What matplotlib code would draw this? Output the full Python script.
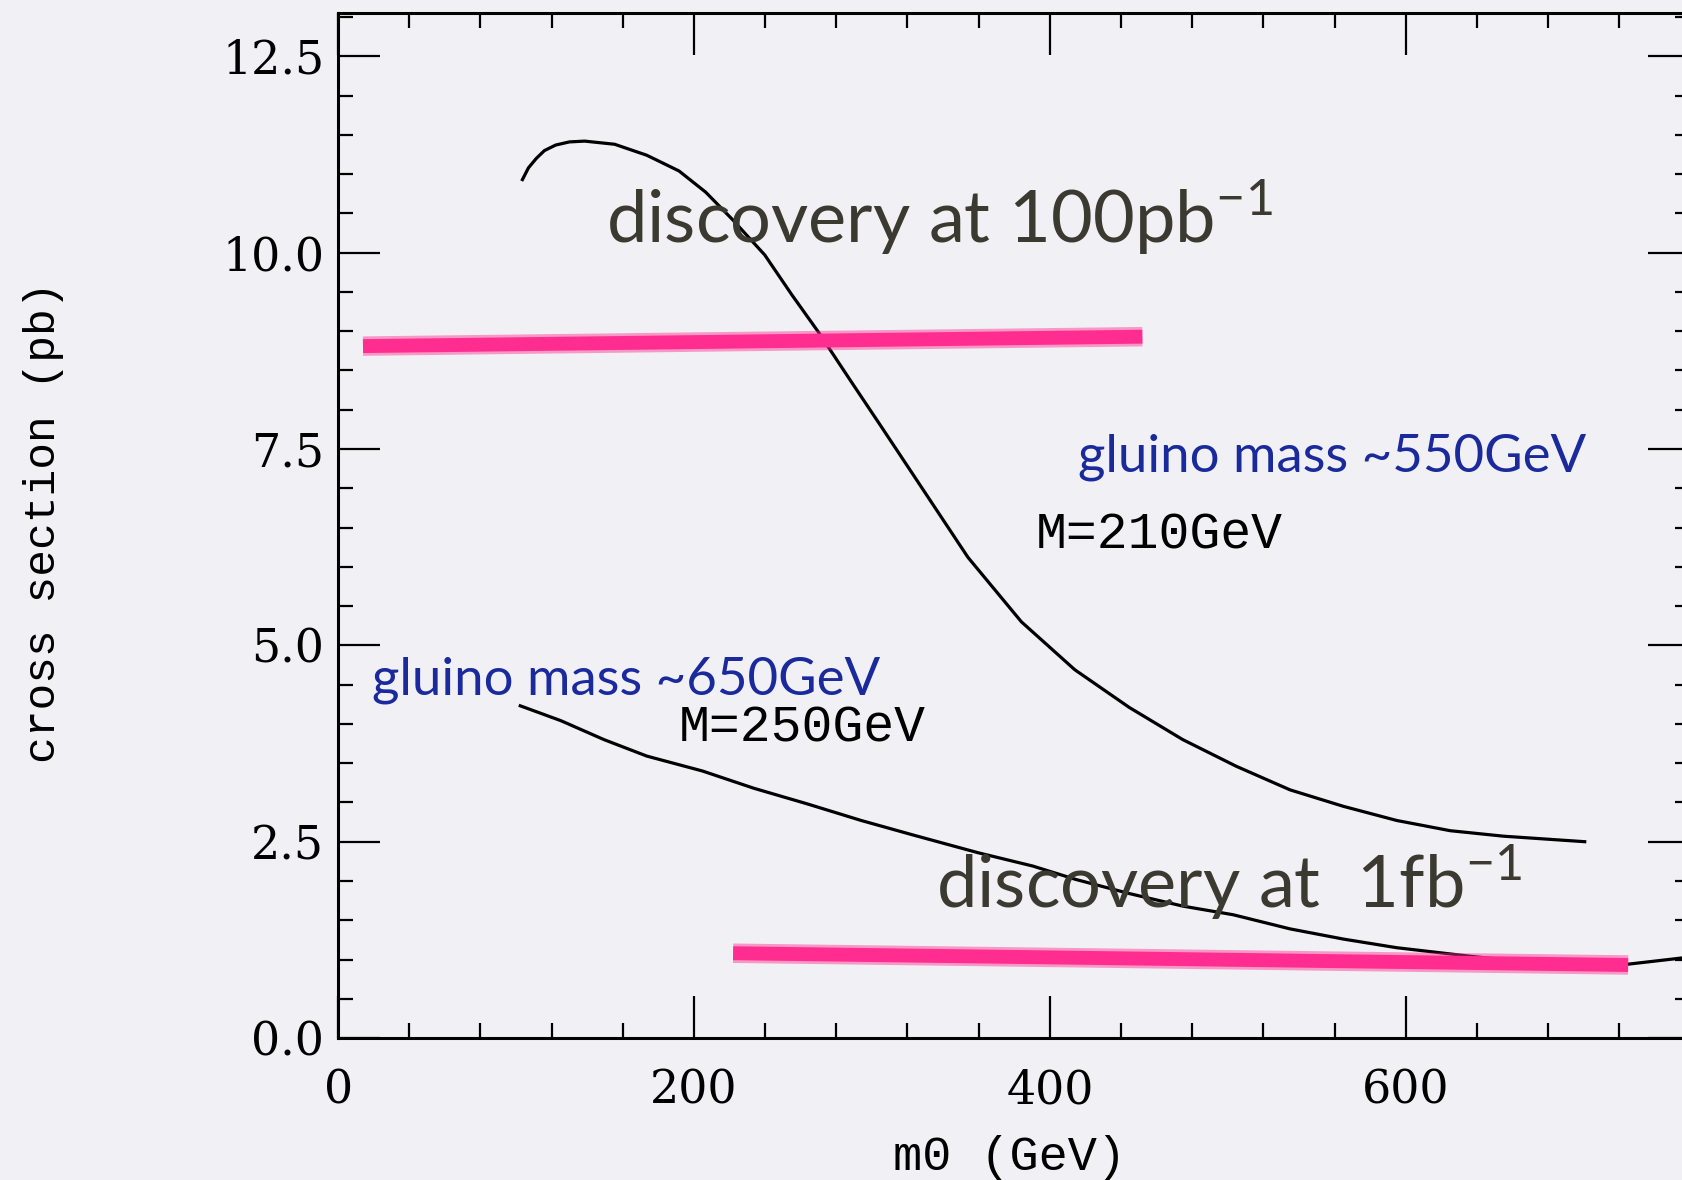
import matplotlib.pyplot as plt

plt.rcParams['mathtext.fontset'] = 'custom'
plt.rcParams['mathtext.rm'] = 'Lato'

# cross section curve, M=210GeV (gluino mass ~550GeV)
m0_210 = [103.6, 107.0, 111.4, 116.0, 122.3, 130.0, 138.6, 155.4, 173.5, 191.6,
          206.6, 221.7, 239.8, 254.8, 269.9, 288.0, 306.0, 330.0, 354.0, 384.0,
          414.0, 444.6, 474.7, 504.8, 535.0, 565.0, 595.0, 625.0, 655.0, 700.6]
xsec_210 = [10.93, 11.08, 11.20, 11.30, 11.37, 11.41, 11.42, 11.38, 11.24, 11.04,
            10.77, 10.42, 9.97, 9.47, 8.99, 8.37, 7.76, 6.94, 6.12, 5.30,
            4.69, 4.21, 3.80, 3.46, 3.16, 2.95, 2.77, 2.64, 2.57, 2.50]

# cross section curve, M=250GeV (gluino mass ~650GeV)
m0_250 = [102.4, 125.3, 149.4, 173.5, 204.8, 233.7, 263.9, 294.0, 324.0, 359.6,
          390.4, 414.5, 444.6, 474.7, 503.0, 535.0, 565.0, 595.0, 636.7, 667.5,
          721.0, 755.4]
xsec_250 = [4.23, 4.04, 3.80, 3.59, 3.40, 3.18, 2.98, 2.77, 2.58, 2.36,
            2.19, 2.02, 1.84, 1.68, 1.57, 1.39, 1.26, 1.15, 1.04, 0.97,
            0.93, 1.02]

# hand drawn discovery reach marks
reach_100pb_x = [14, 452]
reach_100pb_y = [8.81, 8.93]
reach_1fb_x = [222, 725]
reach_1fb_y = [1.08, 0.93]

bg = '#f1f0f5'
pink = '#ff2d8f'
fig = plt.figure(figsize=(16.82, 11.80), dpi=100)
fig.patch.set_facecolor(bg)
ax = fig.add_axes([0.201, 0.1203, 0.804, 0.8686])
ax.set_facecolor(bg)

ax.plot(m0_210, xsec_210, color='black', lw=2.3)
ax.plot(m0_250, xsec_250, color='black', lw=2.3)
for rx, ry in [(reach_100pb_x, reach_100pb_y), (reach_1fb_x, reach_1fb_y)]:
    ax.plot(rx, ry, color=pink, lw=14, alpha=0.45, solid_capstyle='butt')
    ax.plot(rx, ry, color=pink, lw=10, solid_capstyle='butt')

ax.set_xlim(0, 760)
ax.set_ylim(0, 13.05)
ax.set_xticks([0, 200, 400, 600])
ax.set_xticks(range(0, 761, 40), minor=True)
ax.set_yticks([0, 2.5, 5, 7.5, 10, 12.5])
ax.set_yticklabels(['0.0', '2.5', '5.0', '7.5', '10.0', '12.5'])
ax.set_yticks([i * 0.5 for i in range(27)], minor=True)
ax.tick_params(which='both', direction='in', top=True, right=True, color='black')
ax.tick_params(which='major', length=30, width=1.6)
ax.tick_params(which='minor', length=11, width=1.6)
ax.tick_params(axis='x', which='major', pad=22)
ax.tick_params(axis='y', which='major', pad=10)
for lab in ax.get_xticklabels() + ax.get_yticklabels():
    lab.set_fontfamily('DejaVu Serif')
    lab.set_fontsize(33)
for sp in ax.spines.values():
    sp.set_linewidth(2.2)

# annotations
big = dict(family='Lato', color='#3a3a30', fontsize=52, va='baseline')
ax.text(150.6, 10.12, r'discovery at 100pb$^{-1}$', **big)
ax.text(336, 1.65, r'discovery at  1fb$^{-1}$', **big)
blue = dict(family='Lato', color='#1a2a9c', fontsize=38, va='baseline')
ax.text(416, 7.21, 'gluino mass ~550GeV', **blue)
ax.text(19.3, 4.37, 'gluino mass ~650GeV', **blue)
mono = dict(family='Liberation Mono', color='black', fontsize=37, va='baseline')
ax.text(392, 6.23, 'M=210GeV', **mono)
ax.text(191.6, 3.77, 'M=250GeV', **mono)

fig.text(0.0256, 0.557, 'cross section (pb)', rotation=90, ha='center', va='center',
         family='Liberation Mono', fontsize=32)
fig.text(0.600, 0.019, 'm0 (GeV)', ha='center', va='center',
         family='Liberation Mono', fontsize=35)

fig.savefig('out.png', dpi=100, facecolor=bg)
